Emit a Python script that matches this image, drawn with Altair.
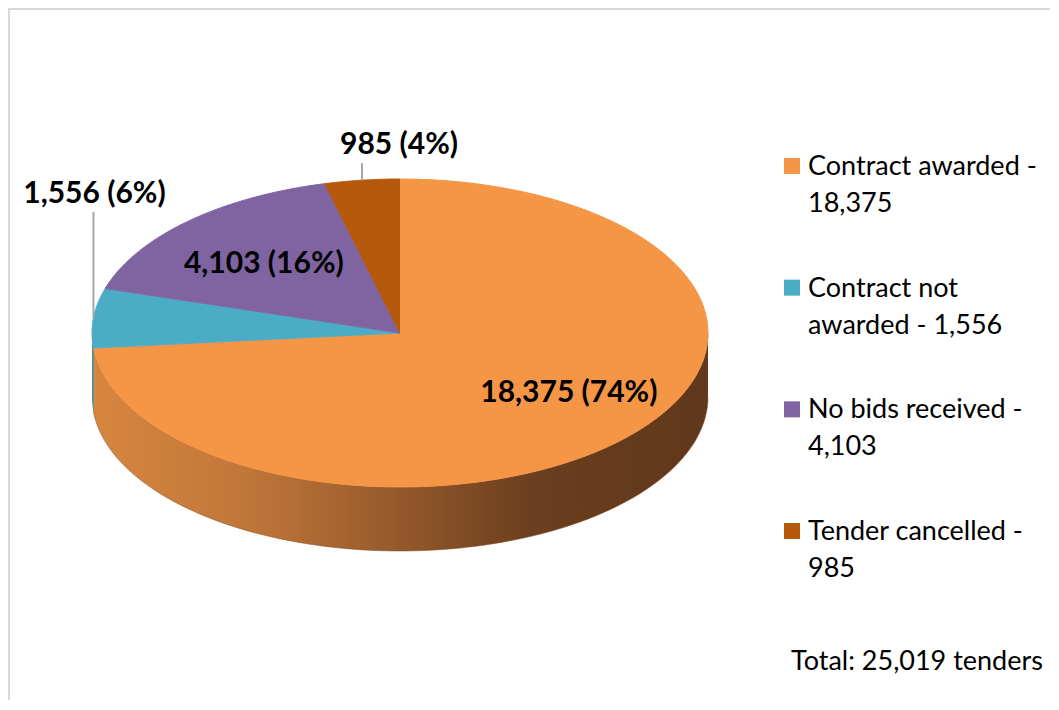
import textwrap
import numpy as np
import pandas as pd
import altair as alt

# ---------------- data ----------------
categories = ["Contract awarded", "Contract not awarded", "No bids received", "Tender cancelled"]
values = [18375, 1556, 4103, 985]
unit_name = "tenders"

# ---------------- styles ----------------
top_colors = ["#F59546", "#4BACC6", "#8064A2", "#B4580C"]
side_colors = ["#C97A38", "#3D93AA", "#5F4A7A", "#7E3D08"]
FONT = "Lato"

W, H = 1042, 692
CX, CY = 392, 325          # pie centre in plot pixels
RX, RY = 308, 154          # ellipse radii in pixels
DEPTH = 64 / RY            # pie thickness in y data units
N = 90                     # arc resolution

xs = alt.Scale(domain=[-1, 1], range=[CX - RX, CX + RX], nice=False, zero=False)
ys = alt.Scale(domain=[-1, 1], range=[CY + RY, CY - RY], nice=False, zero=False)
cscale = alt.Scale(domain=categories, range=top_colors)

total = sum(values)
raw = [100 * v / total for v in values]
pct = [int(np.floor(r)) for r in raw]
left = 100 - sum(pct)
for i in sorted(range(len(raw)), key=lambda i: raw[i] - pct[i], reverse=True)[:left]:
    pct[i] += 1

src = pd.DataFrame({"category": categories, "value": values, "order": list(range(len(values)))})


def slices(ch):
    return (ch.transform_window(cum="sum(value)", sort=[alt.SortField("order")], frame=[None, 0])
              .transform_joinaggregate(total="sum(value)")
              .transform_calculate(a0="2*PI*(datum.cum - datum.value)/datum.total")
              .transform_calculate(a1="2*PI*datum.cum/datum.total"))


XQ = alt.X("px:Q", scale=xs, axis=None)
YQ = alt.Y("py:Q", scale=ys, axis=None)

# ---- top faces ----
top = (slices(alt.Chart(src))
       .transform_calculate(k=f"sequence(-1, {N + 1})")
       .transform_flatten(["k"])
       .transform_calculate(ang=f"datum.a0 + (datum.a1 - datum.a0) * datum.k / {N}")
       .transform_calculate(px="datum.k < 0 ? 0 : sin(datum.ang)")
       .transform_calculate(py="datum.k < 0 ? 0 : cos(datum.ang)")
       .mark_line(filled=True, strokeWidth=1, interpolate="linear")
       .encode(x=XQ, y=YQ, order=alt.Order("k:Q"), detail="category:N",
               color=alt.Color("category:N", scale=cscale, legend=None),
               stroke=alt.Stroke("category:N", scale=cscale, legend=None)))

# ---- side walls (front half only) ----
side_base = (slices(alt.Chart(src))
             .transform_calculate(s0="max(datum.a0, PI/2)")
             .transform_calculate(s1="min(datum.a1, 3*PI/2)")
             .transform_filter("datum.s1 > datum.s0")
             .transform_calculate(k=f"sequence(0, {2 * N + 2})")
             .transform_flatten(["k"])
             .transform_calculate(j=f"datum.k <= {N} ? datum.k : {2 * N + 1} - datum.k")
             .transform_calculate(ang=f"datum.s0 + (datum.s1 - datum.s0) * datum.j / {N}")
             .transform_calculate(px="sin(datum.ang)")
             .transform_calculate(py=f"cos(datum.ang) - (datum.k <= {N} ? 0 : {DEPTH})"))

grad = alt.LinearGradient(
    gradient="linear", x1=0, x2=1, y1=0, y2=0,
    stops=[alt.GradientStop(offset=0, color="#D7863F"),
           alt.GradientStop(offset=0.25, color="#C17639"),
           alt.GradientStop(offset=0.5, color="#94592B"),
           alt.GradientStop(offset=0.72, color="#6A3E1E"),
           alt.GradientStop(offset=1, color="#60381B")])

side_main = (side_base.transform_filter(alt.datum.category == categories[0])
             .mark_line(filled=True, fill=grad, stroke="#7a4a24", strokeWidth=0.5)
             .encode(x=XQ, y=YQ, order=alt.Order("k:Q"), detail="category:N"))
side_rest = (side_base.transform_filter(alt.datum.category != categories[0])
             .mark_line(filled=True, strokeWidth=0)
             .encode(x=XQ, y=YQ, order=alt.Order("k:Q"), detail="category:N",
                     fill=alt.Fill("category:N", scale=alt.Scale(domain=categories, range=side_colors),
                                   legend=None)))

# ---- data labels ----
cum = np.cumsum(values)
mid = 2 * np.pi * (cum - np.array(values) / 2) / total
lab_text = [f"{v:,} ({p}%)" for v, p in zip(values, pct)]
# placement: inside labels at a fraction of the radius; outside labels lifted above the rim (pixels)
inside = {categories[0]: (0.74, 0.58), categories[2]: (0.64, 0.62)}
outside = {categories[1]: (1, 115), categories[3]: (37, 26)}

lab_in = pd.DataFrame([
    {"px": kx * np.sin(mid[i]), "py": ky * np.cos(mid[i]), "t": lab_text[i]}
    for i, c in enumerate(categories) if c in inside
    for kx, ky in [inside[c]]])
lab_out = pd.DataFrame([
    {"ex": np.sin(mid[i]), "ey": np.cos(mid[i]),
     "px": np.sin(mid[i]) + dx / RX, "py": np.cos(mid[i]) + dy / RY,
     "ly": np.cos(mid[i]) + (dy - 9) / RY, "t": lab_text[i]}
    for i, c in enumerate(categories) if c in outside
    for dx, dy in [outside[c]]])

labels_in = alt.Chart(lab_in).mark_text(font=FONT, fontSize=30, fontWeight="bold", color="#000000",
                                        baseline="middle", align="center").encode(x=XQ, y=YQ, text="t:N")
labels_out = alt.Chart(lab_out).mark_text(font=FONT, fontSize=30, fontWeight="bold", color="#000000",
                                          baseline="alphabetic", align="center").encode(x=XQ, y=YQ, text="t:N")
leaders = alt.Chart(lab_out).mark_rule(color="#A6A6A6", strokeWidth=2).encode(
    x=alt.X("ex:Q", scale=xs, axis=None), y=alt.Y("ey:Q", scale=ys, axis=None), y2="ly:Q")

# ---- legend ----
leg_lines = [textwrap.wrap(f"{c} - {v:,}", 18) for c, v in zip(categories, values)]
leg = pd.DataFrame({"category": categories, "order": list(range(len(categories))),
                    "l1": [l[0] for l in leg_lines], "l2": [l[1] if len(l) > 1 else "" for l in leg_lines]})
LY = alt.Y("order:O", scale=alt.Scale(type="point", range=[158, 523], padding=0), axis=None)
leg_sq = alt.Chart(leg).mark_square(size=256, opacity=1, filled=True).encode(
    x=alt.value(784), y=LY, color=alt.Color("category:N", scale=cscale, legend=None))
leg_t1 = alt.Chart(leg).mark_text(font=FONT, fontSize=27, align="left", baseline="alphabetic", dy=9,
                                  color="#000000").encode(x=alt.value(800), y=LY, text="l1:N")
leg_t2 = alt.Chart(leg).mark_text(font=FONT, fontSize=27, align="left", baseline="alphabetic", dy=46,
                                  color="#000000").encode(x=alt.value(800), y=LY, text="l2:N")

tot = alt.Chart(pd.DataFrame({"t": [f"Total: {total:,} {unit_name}"]})).mark_text(
    font=FONT, fontSize=27, align="left", baseline="alphabetic", color="#000000").encode(
    x=alt.value(783), y=alt.value(662), text="t:N")

one = pd.DataFrame({"a": [0]})
border_l = alt.Chart(one).mark_rule(color="#D9D9D9", strokeWidth=2).encode(
    x=alt.value(1), y=alt.value(0), y2=alt.value(H))
border_t = alt.Chart(one).mark_rule(color="#D9D9D9", strokeWidth=2).encode(
    x=alt.value(0), x2=alt.value(W), y=alt.value(1))

chart = (alt.layer(side_main, side_rest, top, leaders, labels_in, labels_out,
                   leg_sq, leg_t1, leg_t2, tot, border_l, border_t)
         .resolve_scale(y="independent", x="independent")
         .properties(width=W, height=H, autosize="none", padding=0, background="white")
         .configure_view(stroke=None))

chart.save("out.html", embed_options={"renderer": "svg", "actions": False})
